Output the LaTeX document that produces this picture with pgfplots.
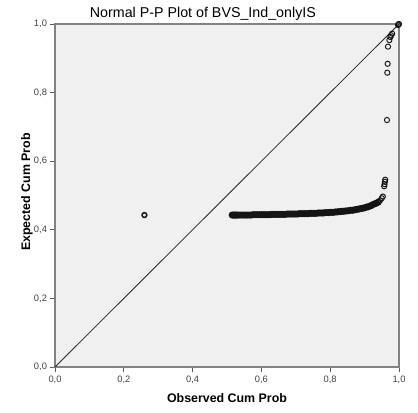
\documentclass[border=0pt]{standalone}
\usepackage{pgfplots}
\pgfplotsset{compat=1.18}
\usepackage{fontspec}
\setmainfont{Liberation Sans}
\definecolor{bgc}{RGB}{240,240,240}
\definecolor{axc}{RGB}{130,130,130}
\definecolor{mk}{RGB}{20,20,20}
\begin{document}
\begin{tikzpicture}[x=1pt,y=1pt]
\useasboundingbox (-41.25pt,-33.75pt) rectangle (272.25pt,275.25pt);
\begin{axis}[
  at={(0,0)}, anchor=south west,
  scale only axis, width=258pt, height=257.25pt,
  xmin=0, xmax=1, ymin=0, ymax=1,
  axis background/.style={fill=bgc},
  axis line style={axc, line width=0.8pt},
  xtick={0,0.2,0.4,0.6,0.8,1.0},
  ytick={0,0.2,0.4,0.6,0.8,1.0},
  tick align=outside, tick pos=left,
  major tick length=4pt,
  tick style={axc!70!black, line width=0.6pt},
  /pgf/number format/assume math mode=true,
  /pgf/number format/.cd, use comma, fixed, fixed zerofill, precision=1, /pgfplots/.cd,
  tick label style={font=\fontsize{7pt}{8pt}\selectfont, text=black!75},
  xticklabel style={yshift=1pt},
  yticklabel style={xshift=1.5pt},
  title={Normal P-P Plot of BVS\_Ind\_onlyIS},
  title style={at={(rel axis cs:0.43,1)}, anchor=center, yshift=2pt, font=\fontsize{10.7pt}{12pt}\selectfont},
  xlabel={Observed Cum Prob},
  ylabel={Expected Cum Prob},
  xlabel style={at={(rel axis cs:0.5,0)}, anchor=center, yshift=-23.25pt, font=\fontsize{9.3pt}{11pt}\selectfont\bfseries},
  ylabel style={at={(rel axis cs:0,0.51)}, anchor=center, yshift=21pt, font=\fontsize{9.3pt}{11pt}\selectfont\bfseries},
  clip=false,
]
\addplot[black!85, line width=0.6pt] coordinates {(0,0) (1,1)};
% dense band of overlapping points
\addplot[only marks, mark=o, mark size=1.95pt, mark options={draw=mk, line width=1.3pt}] coordinates {
(0.515,0.443)(0.518,0.443)(0.521,0.443)(0.524,0.443)(0.527,0.443)(0.530,0.443)(0.535,0.443)(0.540,0.443)(0.545,0.443)(0.550,0.443)
(0.555,0.443)(0.560,0.443)(0.565,0.443)(0.570,0.443)(0.575,0.444)(0.580,0.444)(0.585,0.444)(0.590,0.444)
(0.595,0.444)(0.600,0.444)(0.605,0.444)(0.610,0.444)(0.615,0.444)(0.620,0.444)(0.625,0.444)(0.630,0.445)
(0.635,0.445)(0.640,0.445)(0.645,0.445)(0.650,0.445)(0.655,0.445)(0.660,0.445)(0.665,0.445)(0.670,0.445)
(0.675,0.446)(0.680,0.446)(0.685,0.446)(0.690,0.446)(0.695,0.446)(0.700,0.446)(0.705,0.446)(0.710,0.447)
(0.715,0.447)(0.720,0.447)(0.725,0.447)(0.730,0.447)(0.735,0.447)(0.740,0.448)(0.745,0.448)(0.750,0.448)
(0.755,0.448)(0.760,0.448)(0.765,0.449)(0.770,0.449)(0.775,0.449)(0.780,0.449)(0.785,0.450)(0.790,0.450)
(0.795,0.450)(0.800,0.451)(0.805,0.451)(0.810,0.451)(0.815,0.452)(0.820,0.452)(0.825,0.453)(0.830,0.453)
(0.835,0.454)(0.840,0.454)(0.845,0.455)(0.850,0.455)(0.855,0.456)(0.860,0.457)(0.865,0.457)(0.870,0.458)
(0.875,0.459)(0.880,0.460)(0.885,0.461)(0.890,0.462)(0.895,0.463)(0.900,0.464)(0.905,0.466)(0.910,0.467)
(0.915,0.469)(0.920,0.471)(0.925,0.474)(0.930,0.476)(0.935,0.478)(0.940,0.481)
};
% separate points
\addplot[only marks, mark=o, mark size=1.95pt, mark options={draw=mk, line width=0.7pt}] coordinates {
(0.945,0.486)(0.950,0.492)(0.953,0.497)
(0.957,0.527)(0.958,0.533)(0.959,0.540)(0.960,0.546)
(0.965,0.720)(0.966,0.858)(0.967,0.884)(0.968,0.934)(0.972,0.953)(0.975,0.962)(0.977,0.967)(0.980,0.972)
(0.997,0.997)(0.999,0.999)(1.0,1.0)
};
\addplot[only marks, mark=o, mark size=1.8pt, mark options={draw=mk, line width=1.1pt}] coordinates {(0.260,0.443)};
\end{axis}
\end{tikzpicture}
\end{document}
